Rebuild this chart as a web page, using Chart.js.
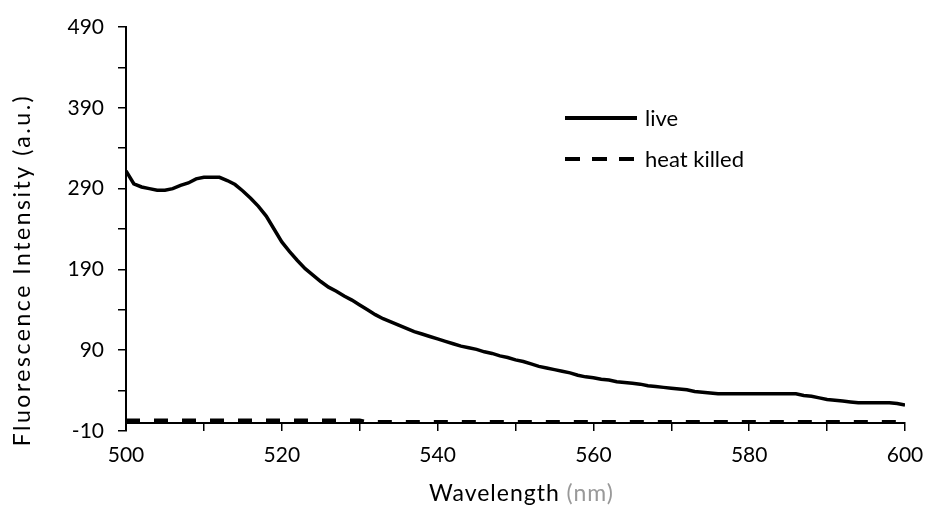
<!DOCTYPE html>
<html>
<head>
<meta charset="utf-8">
<script src="https://cdn.jsdelivr.net/npm/chart.js@4/dist/chart.umd.min.js"></script>
<style>
  html, body { margin: 0; padding: 0; background: #fff; }
  #wrap { width: 931px; height: 512px; position: relative; }
</style>
</head>
<body>
<div id="wrap"><canvas id="c" width="931" height="512"></canvas></div>
<script>
// ---- data ----
const wavelengths = [];
for (let w = 500; w <= 600; w++) wavelengths.push(w);

const liveValues = [
  312, 296, 292, 290, 288, 288, 290, 294, 297, 302,
  304, 304, 304, 300, 295, 287, 278, 268, 256, 240,
  224, 212, 201, 191, 183, 175, 168, 163, 157, 152,
  146, 140, 134, 129, 125, 121, 117, 113, 110, 107,
  104, 101, 98, 95, 93, 91, 88, 86, 83, 81,
  78, 76, 73, 70, 68, 66, 64, 62, 59, 57,
  56, 54, 53, 51, 50, 49, 48, 46, 45, 44,
  43, 42, 41, 39, 38, 37, 36, 36, 36, 36,
  36, 36, 36, 36, 36, 36, 36, 34, 33, 31,
  29, 28, 27, 26, 25, 25, 25, 25, 25, 24,
  22
];

const heatKilledValues = [
  3, 3, 3, 3, 3, 3, 3, 3, 3, 3,
  3, 3, 3, 3, 3, 3, 3, 3, 3, 3,
  3, 3, 3, 3, 3, 3, 3, 3, 3, 3,
  3, 1, 1, 1, 1, 1, 1, 1, 1, 1,
  1, 1, 1, 1, 1, 1, 1, 1, 1, 1,
  1, 1, 1, 1, 1, 1, 1, 1, 1, 1,
  1, 1, 1, 1, 1, 1, 1, 1, 1, 1,
  1, 1, 1, 1, 1, 1, 1, 1, 1, 1,
  1, 1, 1, 1, 1, 1, 1, 1, 1, 1,
  1, 1, 1, 1, 1, 1, 1, 1, 1, 1,
  1
];

const seriesLabels = ['live', 'heat killed'];
const xTitle = 'Wavelength';
const xUnit = '(nm)';
const yTitle = 'Fluorescence Intensity (a.u.)';
const xMin = 500, xMax = 600, xStep = 10, xLabelEvery = 20;
const yMin = -10, yMax = 490, yStep = 50, yLabelEvery = 100;

// ---- chart ----
const FONT = 'Lato, "Open Sans", sans-serif';

function toPoints(xs, ys) { return xs.map((x, i) => ({ x: x, y: ys[i] })); }

const legendTitlesPlugin = {
  id: 'legendTitles',
  afterDraw(chart) {
    const ctx = chart.ctx;
    ctx.save();
    // in-plot legend
    const lx1 = 565, lx2 = 637, ly = [118, 159];
    ctx.font = '22px ' + FONT;
    ctx.textBaseline = 'middle';
    ctx.textAlign = 'left';
    chart.data.datasets.forEach((ds, i) => {
      ctx.beginPath();
      ctx.strokeStyle = ds.borderColor;
      ctx.lineWidth = 4;
      ctx.lineCap = 'butt';
      ctx.setLineDash(ds.borderDash ? [15, 12] : []);
      ctx.moveTo(lx1, ly[i]);
      ctx.lineTo(lx2, ly[i]);
      ctx.stroke();
      ctx.setLineDash([]);
      ctx.fillStyle = '#000';
      ctx.fillText(ds.label, 645, ly[i] + 1);
    });

    // x axis title (two colours)
    ctx.font = '23px ' + FONT;
    ctx.textBaseline = 'middle';
    const targetX = 184;
    ctx.letterSpacing = '0px';
    const full = xTitle + ' ' + xUnit;
    const baseW = ctx.measureText(full).width;
    const ls = Math.max(0, (targetX - baseW) / (full.length - 1));
    ctx.letterSpacing = ls + 'px';
    const w1 = ctx.measureText(xTitle + ' ').width;
    const xStart = 429;
    ctx.fillStyle = '#000';
    ctx.fillText(xTitle, xStart, 494);
    ctx.fillStyle = '#999';
    ctx.fillText(xUnit, xStart + w1, 494);

    // y axis title
    ctx.letterSpacing = '0px';
    const baseY = ctx.measureText(yTitle).width;
    const targetY = 350;
    const lsY = Math.max(0, (targetY - baseY) / (yTitle.length - 1));
    ctx.letterSpacing = lsY + 'px';
    ctx.translate(23, 270);
    ctx.rotate(-Math.PI / 2);
    ctx.textAlign = 'center';
    ctx.fillStyle = '#000';
    ctx.fillText(yTitle, 0, 0);
    ctx.restore();
  }
};

new Chart(document.getElementById('c'), {
  type: 'line',
  data: {
    datasets: [
      {
        label: seriesLabels[0],
        data: toPoints(wavelengths, liveValues),
        borderColor: '#000',
        borderWidth: 3.5,
        pointRadius: 0,
        tension: 0,
        fill: false
      },
      {
        label: seriesLabels[1],
        data: toPoints(wavelengths, heatKilledValues),
        borderColor: '#000',
        borderWidth: 4,
        borderDash: [14, 14],
        borderCapStyle: 'butt',
        pointRadius: 0,
        tension: 0,
        fill: false
      }
    ]
  },
  options: {
    responsive: false,
    animation: false,
    devicePixelRatio: 1,
    layout: { padding: { top: 27, left: 0, right: 26, bottom: 81 } },
    plugins: {
      legend: { display: false },
      tooltip: { enabled: false }
    },
    scales: {
      x: {
        type: 'linear',
        position: { y: 0 },
        min: xMin,
        max: xMax,
        grid: { display: true, drawOnChartArea: false, drawTicks: true, tickLength: 7, color: '#000', lineWidth: 1.5 },
        border: { display: true, color: '#000', width: 2 },
        ticks: {
          stepSize: xStep,
          autoSkip: false,
          maxRotation: 0,
          padding: 13,
          color: '#000',
          font: { family: FONT, size: 21 },
          callback: (v) => (v % xLabelEvery === 0 ? String(v) : '')
        },
        afterFit(scale) {
          scale.height = 0;
          scale.paddingLeft = 0; scale.paddingRight = 0;
          scale.paddingTop = 0; scale.paddingBottom = 0;
        }
      },
      y: {
        type: 'linear',
        min: yMin,
        max: yMax,
        grid: { display: true, drawOnChartArea: false, drawTicks: true, tickLength: 8, color: '#000', lineWidth: 1.5 },
        border: { display: true, color: '#000', width: 2 },
        ticks: {
          stepSize: yStep,
          autoSkip: false,
          padding: 14,
          color: '#000',
          font: { family: FONT, size: 21 },
          callback: (v) => ((v - yMin) % yLabelEvery === 0 ? String(v) : '')
        },
        afterFit(scale) {
          scale.width = 126;
          scale.paddingLeft = 0; scale.paddingRight = 0;
          scale.paddingTop = 0; scale.paddingBottom = 0;
        }
      }
    }
  },
  plugins: [legendTitlesPlugin]
});
</script>
</body>
</html>
